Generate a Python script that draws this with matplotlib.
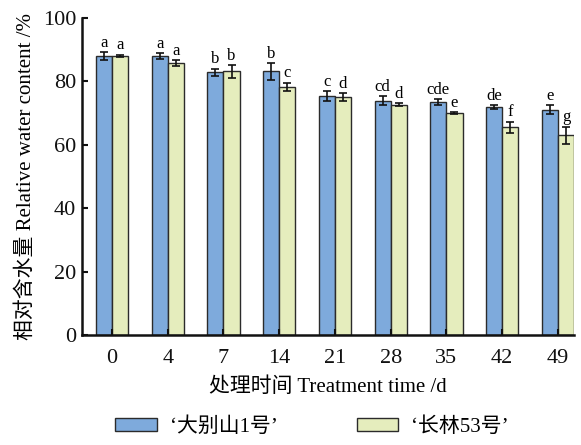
import matplotlib
matplotlib.use("Agg")
import matplotlib.pyplot as plt
import numpy as np

categories = ["0", "4", "7", "14", "21", "28", "35", "42", "49"]
dabieshan = [88.0, 88.0, 82.8, 83.1, 75.3, 73.9, 73.4, 71.9, 71.0]
dabieshan_err = [1.2, 0.9, 1.2, 2.6, 1.6, 1.4, 0.9, 0.5, 1.4]
changlin = [88.0, 85.8, 83.1, 78.2, 75.1, 72.6, 69.9, 65.5, 63.0]
changlin_err = [0.4, 0.9, 2.0, 1.3, 1.2, 0.4, 0.3, 1.7, 2.7]
dabieshan_letters = ["a", "a", "b", "b", "c", "cd", "cde", "de", "e"]
changlin_letters = ["a", "a", "b", "c", "d", "d", "e", "f", "g"]
series_names = ["‘大别山1号’", "‘长林53号’"]
yticks = [0, 20, 40, 60, 80, 100]

fam = ["Liberation Serif", "Noto Sans CJK SC"]
plt.rcParams["font.family"] = fam

fig = plt.figure(figsize=(5.81, 4.45), dpi=100)
ax = fig.add_axes([0.141, 0.247, 0.847, 0.713])

x = np.arange(len(categories))
w = 0.29
blue = "#7eaadc"
yellow = "#e5edbd"
edge = "#2b2b2b"
ax.bar(x - w / 2, dabieshan, w, color=blue, edgecolor=edge, linewidth=1.0,
       yerr=dabieshan_err, error_kw=dict(ecolor="#111", elinewidth=1.2, capsize=3, capthick=1.2),
       label=series_names[0])
ax.bar(x + w / 2, changlin, w, color=yellow, edgecolor=edge, linewidth=1.0,
       yerr=changlin_err, error_kw=dict(ecolor="#111", elinewidth=1.2, capsize=3, capthick=1.2),
       label=series_names[1])

for xi, v, e, t in zip(x - w / 2, dabieshan, dabieshan_err, dabieshan_letters):
    ax.annotate(t, (xi, v + e), xytext=(0, 1), textcoords="offset points",
                ha="center", va="bottom", fontsize=12, family=fam)
for xi, v, e, t in zip(x + w / 2, changlin, changlin_err, changlin_letters):
    ax.annotate(t, (xi, v + e), xytext=(0, 1), textcoords="offset points",
                ha="center", va="bottom", fontsize=12, family=fam)

ax.set_xlim(-0.54, 8.29)
ax.set_ylim(0, 100)
ax.set_yticks(yticks)
ax.set_xticks(x)
ax.set_xticklabels(categories)
for s in ["top", "right"]:
    ax.spines[s].set_visible(False)
for s in ["left", "bottom"]:
    ax.spines[s].set_linewidth(1.8)
    ax.spines[s].set_color("#111")
ax.tick_params(axis="both", direction="in", length=4, width=1.5, labelsize=16, colors="#111")
ax.tick_params(axis="y", pad=4)
ax.tick_params(axis="x", pad=10)

ax.set_ylabel("相对含水量 Relative water content /%", fontsize=15, family=fam, labelpad=5)
ax.set_xlabel("处理时间 Treatment time /d", fontsize=15, family=fam, labelpad=7)

fig.legend(loc="center", bbox_to_anchor=(0.537, 0.041), ncol=2, frameon=False,
           handlelength=2.0, handleheight=0.6, columnspacing=3.8,
           handletextpad=0.6, prop={"family": fam, "size": 15})

fig.savefig("out.png", dpi=100)
